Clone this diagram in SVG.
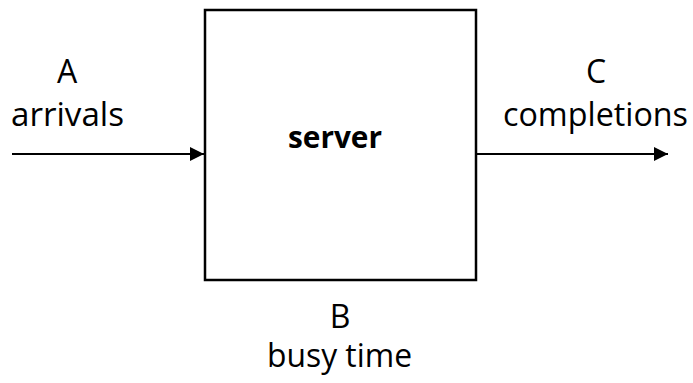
<svg xmlns="http://www.w3.org/2000/svg" width="693" height="383" viewBox="0 0 693 383">
<defs>
<marker id="ah" viewBox="0 0 10 10" refX="10" refY="5" markerWidth="8" markerHeight="7" markerUnits="strokeWidth" orient="auto">
<path d="M0,0 L10,5 L0,10 z" fill="#000"/>
</marker>
<style>
.t{font-family:"Open Sans","Liberation Sans",sans-serif;font-size:32px;fill:#000;text-anchor:middle}
.b{font-weight:bold;font-size:30px}
.e{fill:none;stroke:#000;stroke-width:2}
</style>
</defs>
<rect width="693" height="383" fill="#fff"/>
<g id="server">
<rect x="205" y="10" width="271" height="270" fill="#fff" stroke="#000" stroke-width="2.5"/>
<text class="t b" x="335" y="148" textLength="94" lengthAdjust="spacingAndGlyphs">server</text>
</g>
<g id="arrivals">
<text class="t" x="67" y="83">A</text>
<text class="t" x="67.5" y="126" textLength="113" lengthAdjust="spacingAndGlyphs">arrivals</text>
</g>
<g id="completions">
<text class="t" x="596" y="83">C</text>
<text class="t" x="595.5" y="126" textLength="185" lengthAdjust="spacingAndGlyphs">completions</text>
</g>
<g id="busy">
<text class="t" x="340" y="328">B</text>
<text class="t" x="339.5" y="367" textLength="145" lengthAdjust="spacingAndGlyphs">busy time</text>
</g>
<g id="connectors">
<line class="e" x1="12" y1="154" x2="204" y2="154" marker-end="url(#ah)"/>
<line class="e" x1="477" y1="154" x2="668" y2="154" marker-end="url(#ah)"/>
</g>
</svg>
